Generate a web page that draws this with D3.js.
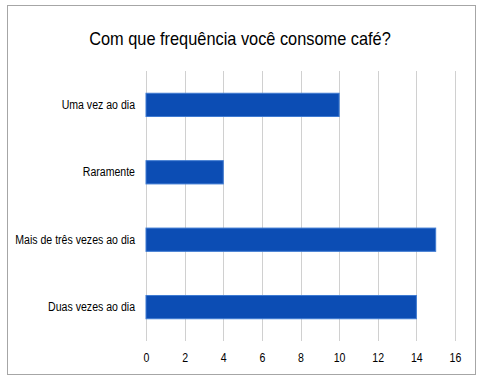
<!DOCTYPE html>
<html><head><meta charset="utf-8">
<script src="https://cdn.jsdelivr.net/npm/d3@7"></script>
<style>
html,body{margin:0;padding:0;background:#fff;}
text{font-family:"Liberation Sans Narrow","Liberation Sans",sans-serif;fill:#000;}
</style></head>
<body>
<svg id="chart" width="483" height="382"></svg>
<script>
const title = "Com que frequência você consome café?";
const categories = ["Uma vez ao dia", "Raramente", "Mais de três vezes ao dia", "Duas vezes ao dia"];
const values = [10, 4, 15, 14];
const xTicks = [0, 2, 4, 6, 8, 10, 12, 14, 16];

const svg = d3.select("#chart");
svg.append("rect").attr("x", 7.5).attr("y", 5.5).attr("width", 468).attr("height", 369)
  .attr("fill", "#fff").attr("stroke", "#a6a6a6").attr("stroke-width", 1);

const x = d3.scaleLinear().domain([0, 16]).range([146, 455]);
const y = d3.scaleBand().domain(categories).range([71, 341]).paddingInner(0.655).paddingOuter(0.33);

function condense(sel, f) {
  sel.each(function() {
    const w = this.getComputedTextLength();
    d3.select(this).attr("textLength", w * f).attr("lengthAdjust", "spacingAndGlyphs");
  });
}

// gridlines
svg.append("g").selectAll("line").data(xTicks).join("line")
  .attr("x1", d => Math.round(x(d)) + 0.5).attr("x2", d => Math.round(x(d)) + 0.5)
  .attr("y1", 71).attr("y2", 341)
  .attr("stroke", "#d0d0d0").attr("stroke-width", 1);

// bars
svg.append("g").selectAll("rect").data(values).join("rect")
  .attr("x", x(0)).attr("y", (d, i) => y(categories[i]))
  .attr("width", d => x(d) - x(0)).attr("height", y.bandwidth())
  .attr("fill", "#0c4db4").attr("stroke", "#3f7bd2").attr("stroke-width", 1);

// x axis labels
const xAxis = d3.axisBottom(x).tickValues(xTicks).tickSize(0).tickPadding(0);
const gx = svg.append("g").attr("transform", "translate(0,353)").call(xAxis);
gx.select(".domain").remove();
gx.selectAll("text").attr("font-size", 12).attr("fill", "#000")
  .style("font-family", '"Liberation Sans Narrow","Liberation Sans",sans-serif');
condense(gx.selectAll("text"), 0.88);

// y axis labels
const yAxis = d3.axisLeft(y).tickSize(0).tickPadding(0);
const gy = svg.append("g").attr("transform", "translate(135,0)").call(yAxis);
gy.select(".domain").remove();
gy.selectAll("text").attr("font-size", 12).attr("fill", "#000")
  .style("font-family", '"Liberation Sans Narrow","Liberation Sans",sans-serif');
condense(gy.selectAll("text"), 0.88);

const t = svg.append("text").attr("x", 240).attr("y", 45).attr("text-anchor", "middle")
  .attr("font-size", 19).text(title);
condense(t, 0.86);
</script>
</body></html>
